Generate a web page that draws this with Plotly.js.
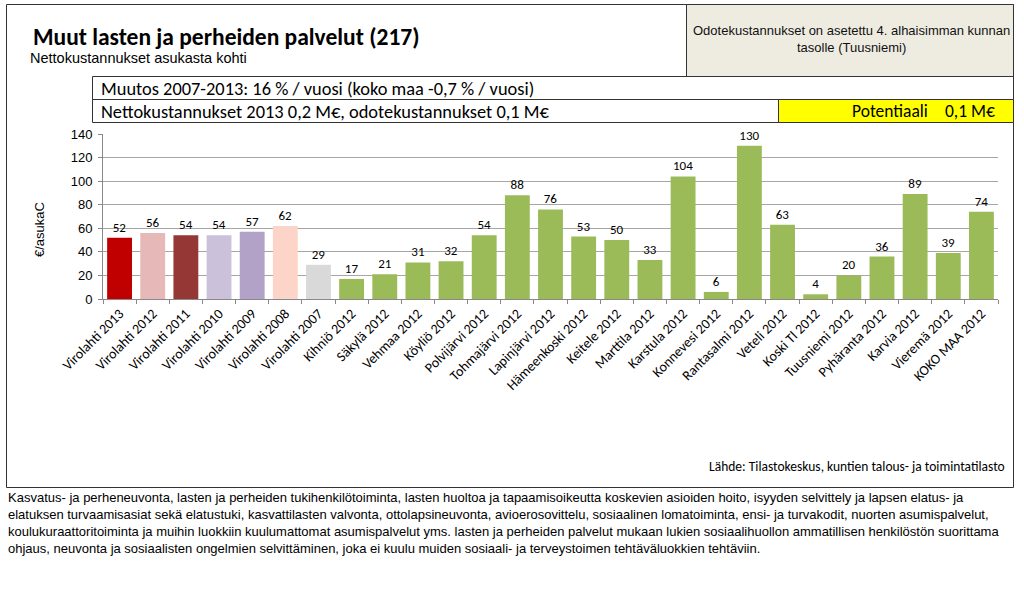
<!DOCTYPE html>
<html>
<head>
<meta charset="utf-8">
<script src="https://cdn.plot.ly/plotly-3.0.1.min.js"></script>
<style>html,body{margin:0;padding:0;background:#fff;}#chart{width:1024px;height:597px;}</style>
</head>
<body>
<div id="chart"></div>
<script>
const categories = ["Virolahti 2013","Virolahti 2012","Virolahti 2011","Virolahti 2010","Virolahti 2009","Virolahti 2008","Virolahti 2007","Kihniö 2012","Säkylä 2012","Vehmaa 2012","Köyliö 2012","Polvijärvi 2012","Tohmajärvi 2012","Lapinjärvi 2012","Hämeenkoski 2012","Keitele 2012","Marttila 2012","Karstula 2012","Konnevesi 2012","Rantasalmi 2012","Veteli 2012","Koski Tl 2012","Tuusniemi 2012","Pyhäranta 2012","Karvia 2012","Vieremä 2012","KOKO MAA 2012"];
const values = [52,56,54,54,57,62,29,17,21,31,32,54,88,76,53,50,33,104,6,130,63,4,20,36,89,39,74];
const barColors = ["#C00000","#E6B9B8","#953735","#CCC1DA","#B3A2C7","#FCD5C8","#D9D9D9","#9BBB59","#9BBB59","#9BBB59","#9BBB59","#9BBB59","#9BBB59","#9BBB59","#9BBB59","#9BBB59","#9BBB59","#9BBB59","#9BBB59","#9BBB59","#9BBB59","#9BBB59","#9BBB59","#9BBB59","#9BBB59","#9BBB59","#9BBB59"];
const yTicks = [0,20,40,60,80,100,120,140];

const titleText = "Muut lasten ja perheiden palvelut (217)";
const subtitleText = "Nettokustannukset asukasta kohti";
const noteText = "Odotekustannukset on asetettu 4. alhaisimman kunnan<br>tasolle (Tuusniemi)";
const changeText = "Muutos 2007-2013: 16 % / vuosi (koko maa -0,7 % / vuosi)";
const costText = "Nettokustannukset 2013 0,2 M€, odotekustannukset 0,1 M€";
const potLabel = "Potentiaali";
const potValue = "0,1 M€";
const yTitle = "€/asukaC";
const sourceText = "Lähde: Tilastokeskus, kuntien talous- ja toimintatilasto";
const descLines = [
 "Kasvatus- ja perheneuvonta, lasten ja perheiden tukihenkilötoiminta, lasten huoltoa ja tapaamisoikeutta koskevien asioiden hoito, isyyden selvittely ja lapsen elatus- ja",
 "elatuksen turvaamisasiat sekä elatustuki, kasvattilasten valvonta, ottolapsineuvonta, avioerosovittelu, sosiaalinen lomatoiminta, ensi- ja turvakodit, nuorten asumispalvelut,",
 "koulukuraattoritoiminta ja muihin luokkiin kuulumattomat asumispalvelut yms. lasten ja perheiden palvelut mukaan lukien sosiaalihuollon ammatillisen henkilöstön suorittama",
 "ohjaus, neuvonta ja sosiaalisten ongelmien selvittäminen, joka ei kuulu muiden sosiaali- ja terveystoimen tehtäväluokkien tehtäviin."
];

// layout geometry (pixels)
const W = 1024, H = 597;
const L = 103, R = 26, T = 134, B = 298;
const pw = W - L - R, ph = H - T - B;
const px = p => (p - L) / pw;
const py = p => (H - B - p) / ph;

const calibri = "Carlito, Calibri, Lato, 'Open Sans', sans-serif";
const arial = "Arial, 'Liberation Sans', sans-serif";

function rect(x0, y0, x1, y1, fill, lineColor) {
  return {type:'rect', xref:'paper', yref:'paper', x0:px(x0), x1:px(x1), y0:py(y0), y1:py(y1),
    fillcolor: fill || 'rgba(0,0,0,0)', line:{color: lineColor || '#222', width:1}, layer:'below'};
}

const shapes = [
  rect(6.5, 4.5, 1013.5, 487.5, null, '#333'),
  rect(686.5, 4.5, 1013.5, 76.5, '#EEECE1', '#333'),
  rect(92.5, 76.5, 1013.5, 99.5, null, '#333'),
  rect(92.5, 99.5, 1013.5, 122.5, null, '#333'),
  rect(778.5, 99.5, 1013.5, 122.5, '#FFFF00', '#333')
];

function ann(text, x, y, opts) {
  return Object.assign({text:text, xref:'paper', yref:'paper', x:px(x), y:py(y), showarrow:false,
    xanchor:'left', yanchor:'middle', font:{family:arial, size:12, color:'#000'}}, opts || {});
}

const annotations = [
  ann(titleText, 31, 37, {font:{family:calibri, size:23.5, color:'#000', weight:'bold'}}),
  ann(subtitleText, 28, 58, {font:{family:arial, size:14.5, color:'#000'}}),
  ann(noteText, 851, 39, {xanchor:'center', font:{family:arial, size:13, color:'#111'}}),
  ann(changeText, 99, 88, {font:{family:calibri, size:18.4, color:'#000'}}),
  ann(costText, 99, 111, {font:{family:calibri, size:18.4, color:'#000'}}),
  ann(potLabel, 930, 111, {xanchor:'right', font:{family:calibri, size:17.5, color:'#000'}}),
  ann(potValue, 997, 111, {xanchor:'right', font:{family:calibri, size:17.5, color:'#000'}}),
  ann(yTitle, 39, 230, {xanchor:'center', textangle:-90, font:{family:arial, size:13, color:'#000'}}),
  ann(sourceText, 1007, 466, {xanchor:'right', font:{family:calibri, size:13.5, color:'#000'}})
];
const lineY = [497, 514, 531, 548];
descLines.forEach((t, i) => annotations.push(ann(t, 6, lineY[i], {font:{family:arial, size:13, color:'#000'}})));

const trace = {
  type:'bar', x:categories, y:values, marker:{color:barColors, line:{width:0}},
  text: values.map(String), textposition:'outside', cliponaxis:false,
  textfont:{family:calibri, size:13, color:'#000'}, hoverinfo:'skip'
};

const layout = {
  width:W, height:H, margin:{l:L, r:R, t:T, b:B, pad:0},
  paper_bgcolor:'#fff', plot_bgcolor:'#fff', showlegend:false, bargap:0.25,
  xaxis:{type:'category', tickangle:-45, tickfont:{family:calibri, size:14, color:'#000'},
    showline:true, linecolor:'#888', linewidth:1, ticks:'outside', tickson:'boundaries', ticklen:4, tickcolor:'#888',
    showgrid:false, automargin:false, fixedrange:true},
  yaxis:{range:[0,140], tickvals:yTicks, ticktext:yTicks.map(String), tickfont:{family:arial, size:13, color:'#000'},
    showline:true, linecolor:'#888', linewidth:1, ticks:'outside', ticklen:4, tickcolor:'#888', ticklabelstandoff:3,
    showgrid:true, gridcolor:'#A6A6A6', gridwidth:1, zeroline:false, automargin:false, fixedrange:true},
  shapes:shapes, annotations:annotations
};

Plotly.newPlot('chart', [trace], layout, {displayModeBar:false, staticPlot:true});
</script>
</body>
</html>
